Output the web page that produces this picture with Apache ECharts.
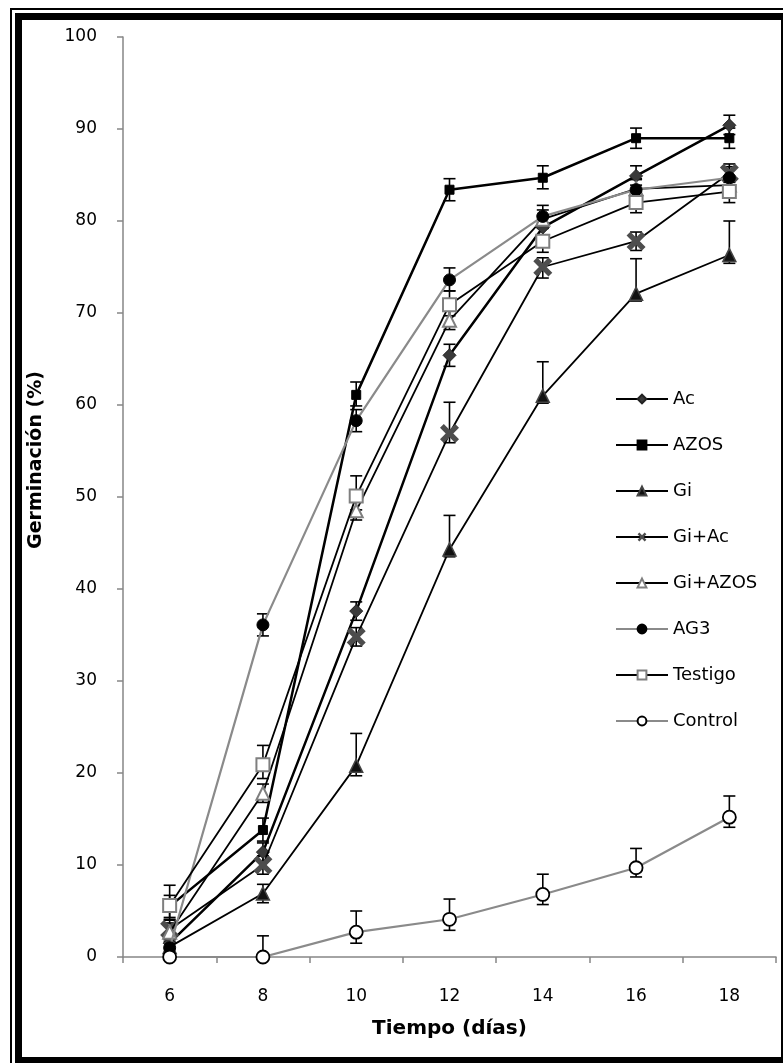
<!DOCTYPE html>
<html><head><meta charset="utf-8">
<script src="https://cdn.jsdelivr.net/npm/echarts@6/dist/echarts.min.js"></script>
<style>html,body{margin:0;padding:0;background:#fff}#c{width:783px;height:1063px}</style>
</head><body><div id="c"></div>
<script>
const days = ['6','8','10','12','14','16','18'];
const seriesNames = ['Ac','AZOS','Gi','Gi+Ac','Gi+AZOS','AG3','Testigo','Control'];
const yTicks = [0,10,20,30,40,50,60,70,80,90,100];

const ac       = [1.5, 11.4, 37.6, 65.4, 79.3, 84.9, 90.4];
const azos     = [5.5, 13.8, 61.1, 83.4, 84.7, 89.0, 89.0];
const gi       = [1.1, 6.9, 20.8, 44.3, 61.0, 72.1, 76.3];
const giAc     = [3.0, 10.0, 34.8, 56.9, 75.0, 77.8, 85.2];
const giAzos   = [2.7, 17.8, 48.5, 69.2, 80.2, 83.5, 83.9];
const ag3      = [1.0, 36.1, 58.3, 73.6, 80.5, 83.4, 84.7];
const testigo  = [5.6, 20.9, 50.1, 70.9, 77.8, 82.0, 83.2];
const control  = [0.0, 0.0, 2.7, 4.1, 6.8, 9.7, 15.2];

// error bar extents (plus / minus)
const acUp      = [1.0, 1.0, 1.0, 1.2, 1.3, 1.1, 1.1];
const acDn      = [1.0, 1.0, 1.0, 1.2, 1.0, 1.0, 1.0];
const azosUp    = [1.2, 1.3, 1.4, 1.2, 1.3, 1.1, 1.1];
const azosDn    = [1.2, 1.2, 1.2, 1.2, 1.2, 1.1, 1.1];
const giUp      = [0.8, 1.0, 3.5, 3.7, 3.7, 3.8, 3.7];
const giDn      = [0.8, 1.0, 1.1, 0.8, 0.8, 0.8, 0.9];
const giAcUp    = [1.0, 1.0, 1.0, 3.4, 1.0, 1.0, 1.0];
const giAcDn    = [1.0, 1.0, 1.0, 1.0, 1.2, 1.0, 1.0];
const giAzosUp  = [1.0, 1.0, 1.0, 1.0, 1.0, 1.0, 1.0];
const giAzosDn  = [1.0, 1.0, 1.0, 1.0, 1.0, 1.0, 1.0];
const ag3Up     = [1.0, 1.2, 1.2, 1.3, 1.2, 1.2, 1.2];
const ag3Dn     = [1.0, 1.2, 1.2, 1.2, 1.2, 1.2, 1.2];
const testigoUp = [2.2, 2.1, 2.2, 1.5, 2.0, 1.2, 1.2];
const testigoDn = [1.5, 1.5, 1.5, 1.2, 1.2, 1.1, 1.2];
const controlUp = [0.0, 2.3, 2.3, 2.2, 2.2, 2.1, 2.3];
const controlDn = [0.0, 0.0, 1.2, 1.2, 1.1, 1.0, 1.1];

const allVals = [ac, azos, gi, giAc, giAzos, ag3, testigo, control];
const allUp = [acUp, azosUp, giUp, giAcUp, giAzosUp, ag3Up, testigoUp, controlUp];
const allDn = [acDn, azosDn, giDn, giAcDn, giAzosDn, ag3Dn, testigoDn, controlDn];

const styles = [
  {line:'#000', lw:2.5, sym:'diamond', size:13, fill:'#3a3a3a', border:'#222', bw:1},
  {line:'#000', lw:2.5, sym:'rect', size:9, fill:'#000', border:'#000', bw:1},
  {line:'#000', lw:1.8, sym:'triangle', size:13, fill:'#111', border:'#444', bw:1.5},
  {line:'#000', lw:1.8, sym:'path://M0,2 L2,0 L5,3 L8,0 L10,2 L7,5 L10,8 L8,10 L5,7 L2,10 L0,8 L3,5 Z', size:19, fill:'#4d4d4d', border:'#4d4d4d', bw:0},
  {line:'#000', lw:1.8, sym:'triangle', size:13, fill:'#fff', border:'#7f7f7f', bw:2},
  {line:'#8a8a8a', lw:2.2, sym:'circle', size:12, fill:'#000', border:'#000', bw:1},
  {line:'#000', lw:1.8, sym:'rect', size:13, fill:'#fff', border:'#7f7f7f', bw:2},
  {line:'#8a8a8a', lw:2.2, sym:'circle', size:13, fill:'#fff', border:'#000', bw:1.8}
];

const errData = [];
allVals.forEach((vals, s) => {
  vals.forEach((v, i) => {
    if (allUp[s][i] > 0 || allDn[s][i] > 0) errData.push([i, v - allDn[s][i], v + allUp[s][i]]);
  });
});

const lineSeries = seriesNames.map((name, s) => ({
  name: name,
  type: 'line',
  data: allVals[s],
  z: 3 + s,
  smooth: false,
  symbol: styles[s].sym,
  symbolSize: styles[s].size,
  showAllSymbol: true,
  lineStyle: {color: styles[s].line, width: styles[s].lw, type: 'solid'},
  itemStyle: {color: styles[s].fill, borderColor: styles[s].border, borderWidth: styles[s].bw},
  emphasis: {disabled: true},
  animation: false
}));

const errSeries = {
  type: 'custom',
  z: 2,
  data: errData,
  encode: {x: 0, y: [1, 2]},
  animation: false,
  silent: true,
  renderItem: function (params, api) {
    const x = api.value(0);
    const lo = api.coord([x, api.value(1)]);
    const hi = api.coord([x, api.value(2)]);
    const w = 6;
    const st = {stroke: '#000', lineWidth: 1.6};
    return {type: 'group', children: [
      {type: 'line', shape: {x1: lo[0], y1: lo[1], x2: hi[0], y2: hi[1]}, style: st},
      {type: 'line', shape: {x1: lo[0]-w, y1: lo[1], x2: lo[0]+w, y2: lo[1]}, style: st},
      {type: 'line', shape: {x1: hi[0]-w, y1: hi[1], x2: hi[0]+w, y2: hi[1]}, style: st}
    ]};
  }
};

const chart = echarts.init(document.getElementById('c'), null, {renderer: 'canvas'});
chart.setOption({
  animation: false,
  backgroundColor: '#fff',
  grid: {left: 123, right: 7, top: 37, bottom: 106, containLabel: false},
  legend: {
    data: seriesNames,
    orient: 'vertical',
    left: 610,
    top: 385,
    itemWidth: 52,
    itemHeight: 11,
    itemGap: 28,
    textStyle: {fontFamily: 'DejaVu Sans', fontSize: 18, color: '#000'}
  },
  xAxis: {
    type: 'category',
    data: days,
    boundaryGap: true,
    axisLine: {lineStyle: {color: '#868686', width: 1.5}},
    axisTick: {show: true, inside: false, length: 6, lineStyle: {color: '#868686', width: 1.5}},
    axisLabel: {margin: 31, fontFamily: 'DejaVu Sans', fontSize: 17, color: '#000'},
    name: 'Tiempo (días)',
    nameLocation: 'middle',
    nameGap: 62,
    nameTextStyle: {fontFamily: 'DejaVu Sans', fontWeight: 'bold', fontSize: 20, color: '#000'},
    splitLine: {show: false}
  },
  yAxis: {
    type: 'value',
    min: 0, max: 100, interval: 10,
    axisLine: {show: true, lineStyle: {color: '#868686', width: 1.5}},
    axisTick: {show: true, length: 6, lineStyle: {color: '#868686', width: 1.5}},
    axisLabel: {margin: 26, fontFamily: 'DejaVu Sans', fontSize: 17, color: '#000',
      formatter: v => yTicks.indexOf(v) >= 0 ? String(v) : ''},
    splitLine: {show: false}
  },
  graphic: [
    {type: 'text', x: 36, y: 460, rotation: Math.PI/2, z: 10,
     style: {text: 'Germinación (%)', fontSize: 19, fontWeight: 'bold', fontFamily: 'DejaVu Sans', fill: '#000', align: 'center', verticalAlign: 'middle'}},
    {type: 'rect', shape: {x: 10, y: 8, width: 773, height: 2}, style: {fill: '#000'}, silent: true},
    {type: 'rect', shape: {x: 10, y: 8, width: 2, height: 1055}, style: {fill: '#000'}, silent: true},
    {type: 'rect', shape: {x: 15, y: 13, width: 768, height: 7}, style: {fill: '#000'}, silent: true},
    {type: 'rect', shape: {x: 15, y: 13, width: 7, height: 1050}, style: {fill: '#000'}, silent: true},
    {type: 'rect', shape: {x: 15, y: 1057, width: 768, height: 6}, style: {fill: '#000'}, silent: true},
    {type: 'rect', shape: {x: 781, y: 13, width: 2, height: 1050}, style: {fill: '#000'}, silent: true}
  ],
  series: [errSeries].concat(lineSeries)
});
</script>
</body></html>
